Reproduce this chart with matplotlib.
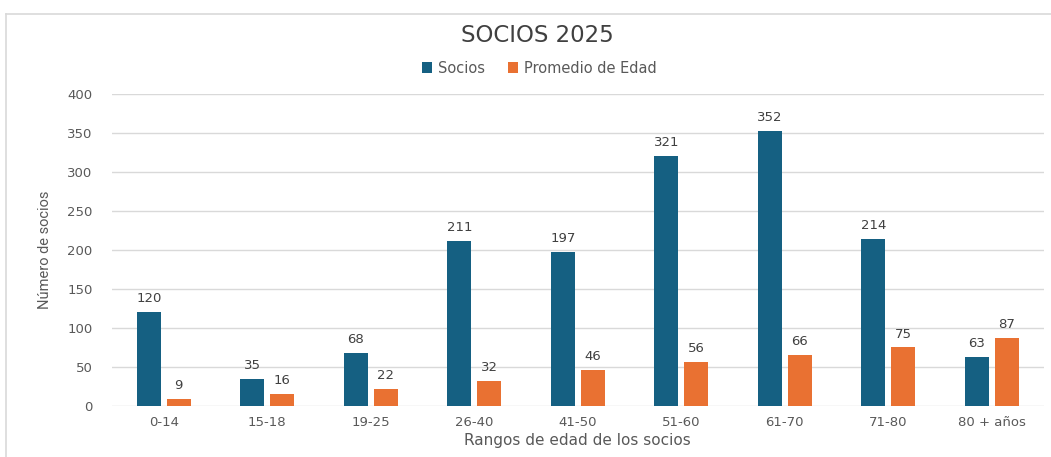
import matplotlib
matplotlib.use("Agg")
import matplotlib.pyplot as plt
from matplotlib.lines import Line2D
import numpy as np

categories = ["0-14", "15-18", "19-25", "26-40", "41-50", "51-60", "61-70", "71-80", "80 + años"]
socios = [120, 35, 68, 211, 197, 321, 352, 214, 63]
promedio_edad = [9, 16, 22, 32, 46, 56, 66, 75, 87]
yticks = [0, 50, 100, 150, 200, 250, 300, 350, 400]

BLUE = "#156082"
ORANGE = "#E97132"
TXT = "#595959"
GRID = "#D9D9D9"

plt.rcParams['font.family'] = ['DejaVu Sans']

fig = plt.figure(figsize=(10.51, 4.57), dpi=100)
ax = fig.add_axes([0.1066, 0.1116, 0.8864, 0.6827])

x = np.arange(len(categories))
w = 0.23
off = 0.145
b1 = ax.bar(x - off, socios, w, color=BLUE, label="Socios")
b2 = ax.bar(x + off, promedio_edad, w, color=ORANGE, label="Promedio de Edad")

for bars, vals in ((b1, socios), (b2, promedio_edad)):
    for r, v in zip(bars, vals):
        ax.annotate(str(v), (r.get_x() + r.get_width() / 2, v), xytext=(0, 5),
                    textcoords="offset points", ha="center", va="bottom",
                    fontsize=9.5, color="#404040")

ax.set_xlim(-0.5, len(categories) - 0.5)
ax.set_ylim(0, 400)
ax.set_yticks(yticks)
ax.set_xticks(x)
ax.set_xticklabels(categories)
ax.tick_params(axis='both', length=0, labelsize=9.5, colors=TXT)
ax.tick_params(axis='y', pad=14)
ax.tick_params(axis='x', pad=7)
ax.grid(axis='y', color=GRID, linewidth=1)
ax.set_axisbelow(True)
for s in ax.spines.values():
    s.set_visible(False)

ax.set_ylabel("Número de socios", fontsize=10.5, color=TXT,
              family=['Roboto', 'DejaVu Sans'], labelpad=11)
ax.set_xlabel("Rangos de edad de los socios", fontsize=11, color=TXT, labelpad=3)

fig.text(0.511, 0.923, "SOCIOS 2025", ha="center", va="center", fontsize=16.5, color="#404040")
fig.legend(handles=[b1, b2], loc="center", bbox_to_anchor=(0.513, 0.851), ncol=2,
           frameon=False, fontsize=10.5, handlelength=0.7, handleheight=0.7,
           columnspacing=1.6, handletextpad=0.4, labelcolor=TXT)

# outer chart frame
fig.add_artist(Line2D([6 / 1051, 1.0], [1 - 14 / 457, 1 - 14 / 457], color=GRID, linewidth=1.2,
                      transform=fig.transFigure))
fig.add_artist(Line2D([6 / 1051, 6 / 1051], [0, 1 - 14 / 457], color=GRID, linewidth=1.2,
                      transform=fig.transFigure))

fig.savefig("out.png", dpi=100)
